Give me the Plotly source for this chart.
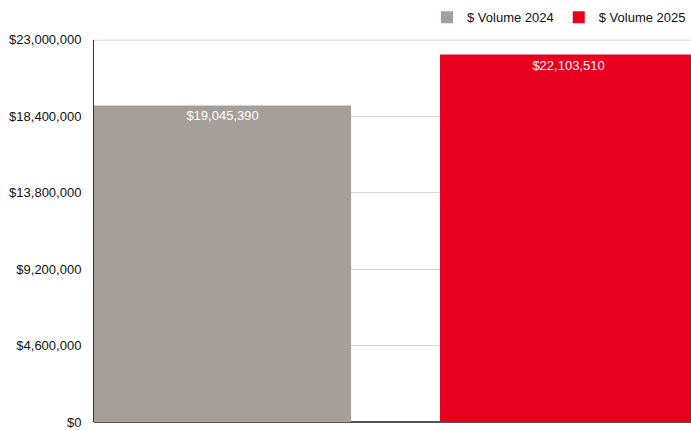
import plotly.graph_objects as go

# Dollar volume by year
years = ["2024", "2025"]
series_names = ["$ Volume 2024", "$ Volume 2025"]
volumes = [19045390, 22103510]
colors = ["#a69e98", "#e8001f"]

tick_vals = [0, 4600000, 9200000, 13800000, 18400000, 23000000]
tick_text = ["$0", "$4,600,000", "$9,200,000", "$13,800,000", "$18,400,000", "$23,000,000"]

fig = go.Figure()
for year, name, vol, col in zip(years, series_names, volumes, colors):
    fig.add_trace(go.Bar(
        x=[year], y=[vol], name=name,
        marker=dict(color=col, line=dict(width=0)),
        width=0.743,
        text=[f"${vol:,.0f}"],
        textposition="inside",
        insidetextanchor="end",
        textfont=dict(color="white", size=13, family="Liberation Sans, Arial, sans-serif"),
    ))

# gridline along the top of the value range
fig.add_shape(type="line", xref="paper", x0=0, x1=1, yref="y",
              y0=tick_vals[-1], y1=tick_vals[-1],
              line=dict(color="#cccccc", width=1.5), layer="below")

fig.update_layout(
    width=691, height=430,
    margin=dict(l=94, r=0, t=36, b=8),
    barmode="overlay",
    plot_bgcolor="white", paper_bgcolor="white",
    font=dict(family="Liberation Sans, Arial, sans-serif", size=13, color="#111"),
    showlegend=True,
    legend=dict(
        orientation="h", x=1, xanchor="right",
        yref="container", y=0.96, yanchor="middle",
        font=dict(size=13, color="#111"),
        itemwidth=30, tracegroupgap=0,
    ),
    xaxis=dict(
        type="category", range=[-0.3715, 1.354],
        showticklabels=False, showgrid=False, zeroline=False,
        showline=False, ticks="",
    ),
    yaxis=dict(
        range=[0, 23000000], tickvals=tick_vals, ticktext=tick_text,
        showgrid=True, gridcolor="#d4d4d4", gridwidth=1,
        zeroline=True, zerolinecolor="#555", zerolinewidth=1.5,
        showline=True, linecolor="#333", linewidth=1,
        ticks="", ticklabelstandoff=9,
        tickfont=dict(size=13, color="#111"),
    ),
)

fig.write_html("out.html")
